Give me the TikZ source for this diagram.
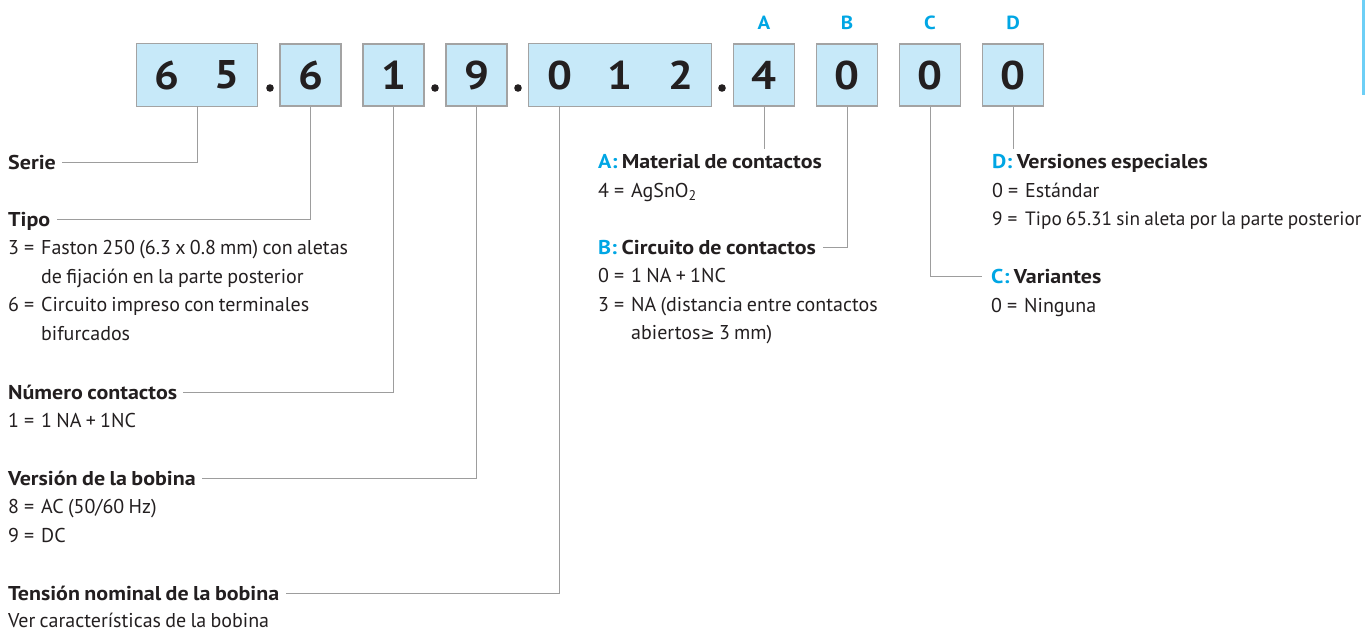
\documentclass[tikz,border=0pt]{standalone}
\usepackage{fontspec}
\setmainfont{PT Sans}[WordSpace=0.8, BoldFeatures={FakeStretch=1.1}]
\newfontfamily\symfont{DejaVu Sans}
\usetikzlibrary{calc}
\definecolor{cellfill}{HTML}{C7E9F9}
\definecolor{cellline}{HTML}{A3A3A3}
\definecolor{leadgray}{HTML}{9D9D9D}
\definecolor{keycyan}{HTML}{00A6E4}
\definecolor{inkdark}{HTML}{231F20}
\definecolor{tabbar}{HTML}{6DCFF6}
\tikzset{
  cell/.style={minimum width=61pt, minimum height=62pt, inner sep=0pt, fill=cellfill,
    text=inkdark, font=\fontsize{40}{40}\selectfont\bfseries},
  cellbox/.style={cell, draw=cellline, line width=1.2pt},
  frame/.style={draw=cellline, line width=1.2pt},
  keyletter/.style={text=keycyan, inner sep=0pt, font=\fontsize{19}{19}\selectfont\bfseries},
  head/.style={anchor=west, inner sep=0pt, text height=14pt, text depth=0pt, text=inkdark,
    font=\fontsize{20}{20}\selectfont\bfseries},
  body/.style={head, font=\fontsize{20}{20}\selectfont},
  leader/.style={draw=leadgray, line width=1pt},
}
\newcommand{\key}[1]{\textcolor{keycyan}{#1:} }
\newcommand{\num}[1]{\makebox[33pt][l]{#1\hspace{5pt}=}}
\newcommand{\hang}{\hspace*{33pt}}
\begin{document}
\begin{tikzpicture}[x=1pt,y=-1pt]
\useasboundingbox (0,0) rectangle (1365,630);
\fill[tabbar] (1362,0) rectangle (1365,95);
% code cells
\node[cell] (s6) at (167,75) {6};
\node[cell] (s5) at (227,75) {5};
\draw[frame] (s6.north west) rectangle (s5.south east);
\node[cell] (t0) at (559.5,75) {0};
\node[cell] (t1) at (620,75) {1};
\node[cell] (t2) at (680.5,75) {2};
\draw[frame] (t0.north west) rectangle (t2.south east);
\foreach \n/\x/\d in {tp/310.5/6, nc/393.5/1, vb/476.5/9, ka/764/4, kb/847/0, kc/930/0, kd/1013/0}
  \node[cellbox] (\n) at (\x,75) {\d};
\foreach \x in {270,435,518,722} \fill[inkdark] (\x,88) circle (3.8);
\foreach \l/\x in {A/764,B/847,C/930,D/1013} \node[keyletter] (l\l) at (\x,23) {\l};
% left column
\node[head] (serie) at (8,162) {Serie};
\node[head] (tipo) at (8,219) {Tipo};
\node[body] (t3a) at (8,247.5) {\num{3}Faston 250 (6.3 x 0.8 mm) con aletas};
\node[body] (t3b) at (8,276) {\hang de fijación en la parte posterior};
\node[body] (t6a) at (8,304.5) {\num{6}Circuito impreso con terminales};
\node[body] (t6b) at (8,333) {\hang bifurcados};
\node[head] (numero) at (8,392) {Número contactos};
\node[body] (n1) at (8,420.5) {\num{1}1 NA + 1NC};
\node[head] (version) at (8,478) {Versión de la bobina};
\node[body] (v8) at (8,506.5) {\num{8}AC (50/60 Hz)};
\node[body] (v9) at (8,535) {\num{9}DC};
\node[head] (tension) at (8,593) {Tensión nominal de la bobina};
\node[body] (vc) at (8,620) {Ver características de la bobina};
% middle column
\node[head] (mat) at (598,161.5) {\key{A}Material de contactos};
\node[body] (ag) at (598,190) {\num{4}AgSnO\textsubscript{2}};
\node[head] (circ) at (598,247) {\key{B}Circuito de contactos};
\node[body] (b0) at (598,275.5) {\num{0}1 NA + 1NC};
\node[body] (b3a) at (598,304) {\num{3}NA (distancia entre contactos};
\node[body] (b3b) at (598,332.5) {\hang abiertos{\symfont\fontsize{17}{17}\selectfont≥} 3 mm)};
% right column
\node[head] (vers) at (992,161.5) {\key{D}Versiones especiales};
\node[body] (d0) at (992,190) {\num{0}Estándar};
\node[body, font=\fontsize{19.3}{19.3}\selectfont] (d9) at (992,218.5) {\num{9}Tipo 65.31 sin aleta por la parte posterior};
\node[head] (var) at (991,276.5) {\key{C}Variantes};
\node[body] (c0) at (991,305) {\num{0}Ninguna};
% leaders
\draw[leader] (s6.south east) |- ([xshift=6pt]serie.east);
\draw[leader] (tp.south) |- ([xshift=6pt]tipo.east);
\draw[leader] (nc.south) |- ([xshift=6pt]numero.east);
\draw[leader] (vb.south) |- ([xshift=6pt]version.east);
\draw[leader] (t0.south) |- ([xshift=6pt]tension.east);
\draw[leader] (ka.south) -- ($(mat.north -| ka.south)+(0pt,5pt)$);
\draw[leader] (kb.south) |- ([xshift=7pt]circ.east);
\draw[leader] (kc.south) |- ([xshift=-9pt]var.west);
\draw[leader] (kd.south) -- ($(vers.north -| kd.south)+(0pt,5pt)$);
\end{tikzpicture}
\end{document}
